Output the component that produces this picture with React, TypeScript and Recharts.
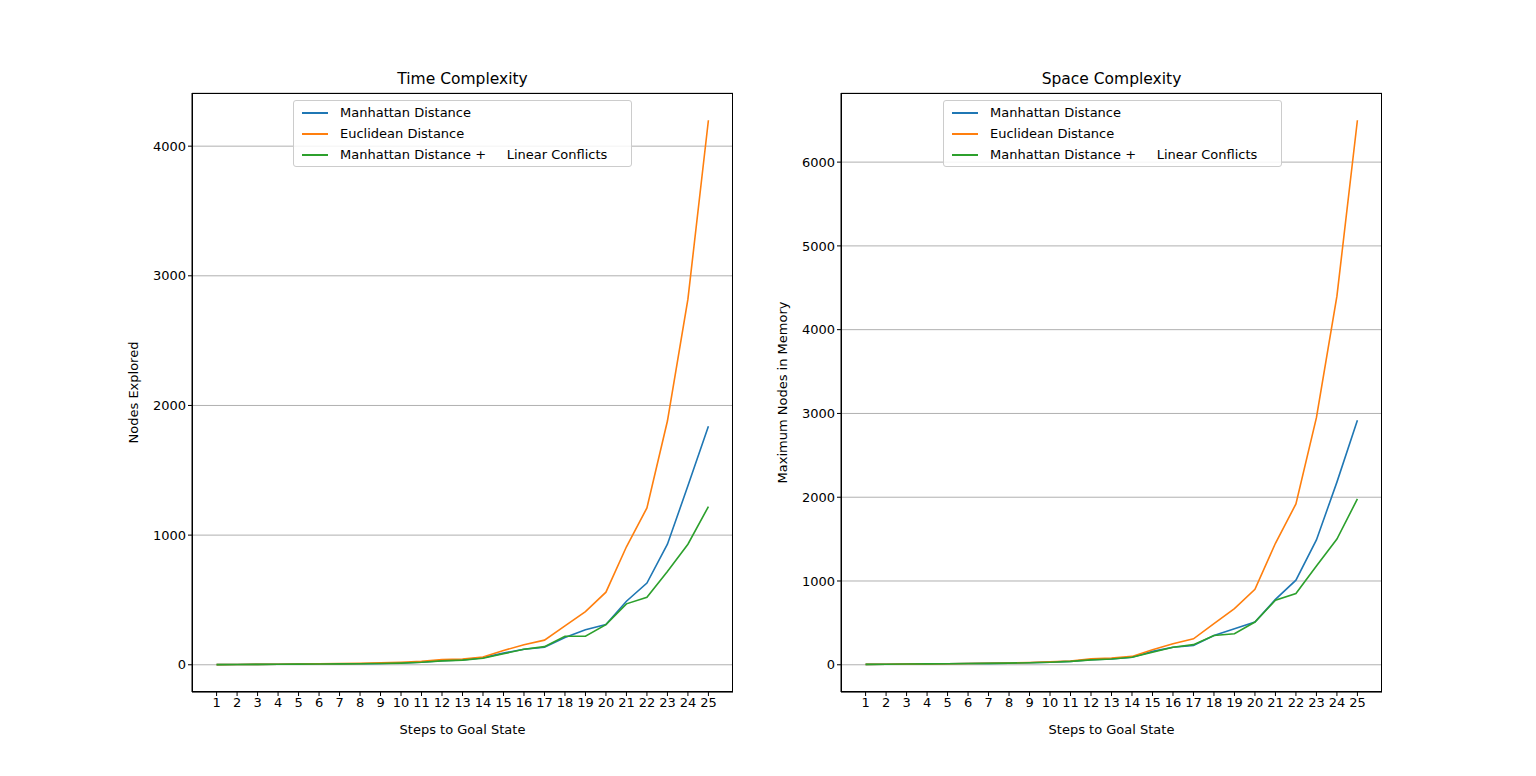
import React from "react";
import { LineChart, Line, XAxis, YAxis, CartesianGrid } from "recharts";

const steps = [1,2,3,4,5,6,7,8,9,10,11,12,13,14,15,16,17,18,19,20,21,22,23,24,25];
const timeManhattan = [1,2,3,4,5,6,7,8,10,14,20,32,38,55,90,120,135,210,270,310,490,630,930,1380,1840];
const timeEuclid = [1,2,3,4,6,8,9,11,15,20,26,40,45,60,110,155,190,300,410,560,910,1210,1880,2820,4200];
const timeMLC = [1,2,3,4,5,6,7,8,10,13,19,30,36,50,85,120,140,220,220,310,470,520,720,930,1220];
const spaceManhattan = [5,7,9,11,13,15,17,20,25,32,40,60,70,90,160,210,230,350,430,510,780,1010,1490,2180,2920];
const spaceEuclid = [5,7,9,11,13,16,19,22,28,36,45,70,80,100,180,250,310,490,670,900,1450,1920,2950,4400,6500];
const spaceMLC = [5,7,9,11,13,15,17,20,25,31,40,58,68,90,150,210,240,350,370,510,770,850,1180,1500,1980];
const timeTicks = [0,1000,2000,3000,4000];
const spaceTicks = [0,1000,2000,3000,4000,5000,6000];
const seriesNames = ["Manhattan Distance", "Euclidean Distance", "Manhattan Distance +     Linear Conflicts"];
const colors = ["#1f77b4", "#ff7f0e", "#2ca02c"];

const font = "DejaVu Sans, sans-serif";

function build(a: number[], b: number[], c: number[]) {
  return steps.map((s, i) => ({ s, m: a[i], e: b[i], l: c[i] }));
}

const LegendBox = ({ left }: any) => (
  <div style={{ position: "absolute", left, top: 100, boxSizing: "border-box", border: "1px solid #ccc", background: "rgba(255,255,255,0.85)", borderRadius: 3, padding: "1px 8px", fontFamily: font, fontSize: 13, width: 339, height: 67 }}>
    {seriesNames.map((n, i) => (
      <div key={n} style={{ display: "flex", alignItems: "center", height: 21 }}>
        <span style={{ display: "inline-block", width: 26, height: 2, background: colors[i], marginRight: 12 }} />
        <span style={{ whiteSpace: "pre" }}>{n}</span>
      </div>
    ))}
  </div>
);

function Panel({ data, ticks, domain, ylabel, left, marginLeft, marginRight }: any) {
  const yLab = (props: any) => {
    const vb = props.viewBox;
    const x = vb.x + 11;
    const y = vb.y + vb.height / 2;
    return <text x={x} y={y} transform={`rotate(-90 ${x} ${y})`} textAnchor="middle" dominantBaseline="central" fontFamily={font} fontSize={13} fill="#000">{ylabel}</text>;
  };
  return (
    <div style={{ position: "absolute", left, top: 0 }}>
      <LineChart width={760} height={776} data={data} margin={{ top: 93, right: marginRight, bottom: 34, left: marginLeft }}>
        <CartesianGrid vertical={false} stroke="#b0b0b0" />
        <XAxis dataKey="s" type="number" domain={[-0.2, 26.2]} ticks={steps} interval={0} height={50}
          tick={{ fontFamily: font, fontSize: 13, fill: "#000" }} stroke="#000" tickSize={4}
          label={{ value: "Steps to Goal State", position: "insideBottom", offset: 8, fontFamily: font, fontSize: 13, fill: "#000" }} />
        <YAxis domain={domain} ticks={ticks} width={70} allowDataOverflow
          tick={{ fontFamily: font, fontSize: 13, fill: "#000" }} stroke="#000" tickSize={4} label={yLab} />
        <Line dataKey="m" stroke={colors[0]} strokeWidth={1.6} dot={false} isAnimationActive={false} />
        <Line dataKey="e" stroke={colors[1]} strokeWidth={1.6} dot={false} isAnimationActive={false} />
        <Line dataKey="l" stroke={colors[2]} strokeWidth={1.6} dot={false} isAnimationActive={false} />
      </LineChart>
    </div>
  );
}

const Frame = ({ left }: any) => (
  <div style={{ position: "absolute", left, top: 93, width: 541, height: 599, boxSizing: "border-box", border: "1px solid #000", pointerEvents: "none" }} />
);

export default function App() {
  return (
    <div style={{ position: "absolute", left: 0, top: 0, width: 1536, height: 776, background: "#fff" }}>
      <div style={{ position: "absolute", left: 192, width: 541, top: 70, textAlign: "center", fontFamily: font, fontSize: 15.5 }}>Time Complexity</div>
      <div style={{ position: "absolute", left: 841, width: 541, top: 70, textAlign: "center", fontFamily: font, fontSize: 15.5 }}>Space Complexity</div>
      <Panel data={build(timeManhattan, timeEuclid, timeMLC)} ticks={timeTicks} domain={[-210, 4410]} ylabel="Nodes Explored" left={0} marginLeft={122} marginRight={27} />
      <Panel data={build(spaceManhattan, spaceEuclid, spaceMLC)} ticks={spaceTicks} domain={[-325, 6825]} ylabel="Maximum Nodes in Memory" left={768} marginLeft={3} marginRight={146} />
      <Frame left={192} />
      <Frame left={841} />
      <LegendBox left={293} />
      <LegendBox left={943} />
    </div>
  );
}
